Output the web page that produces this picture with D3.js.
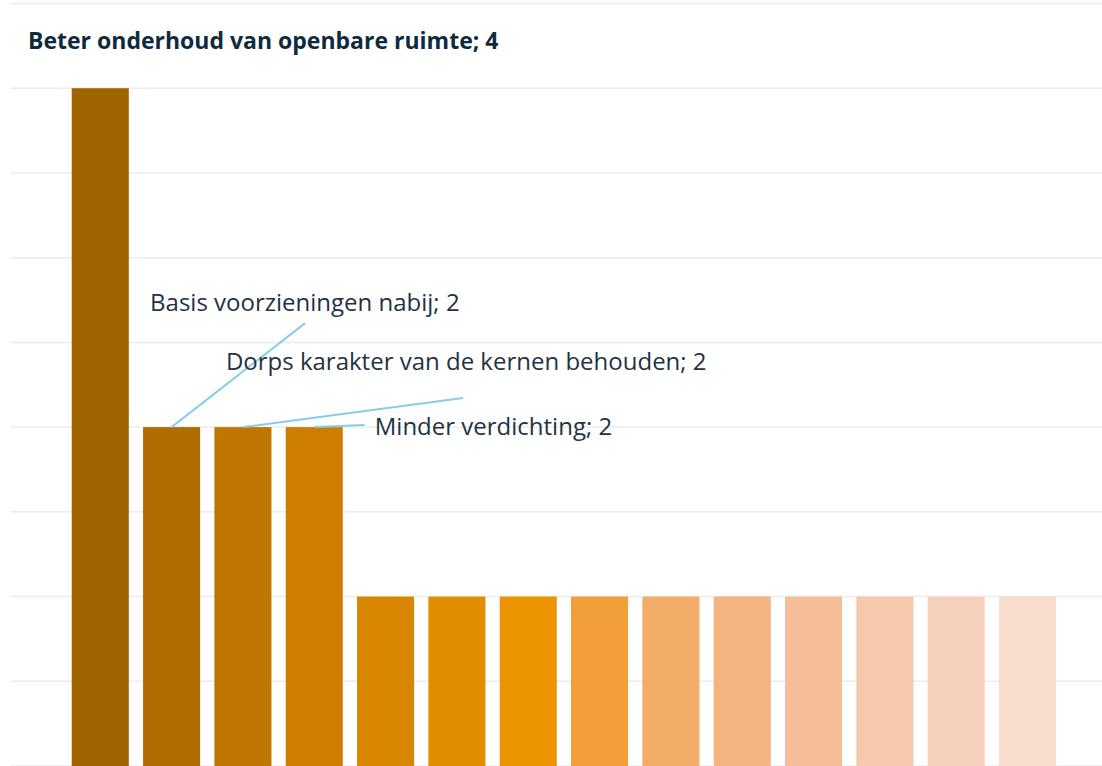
<!DOCTYPE html>
<html>
<head>
<meta charset="utf-8">
<script src="https://cdn.jsdelivr.net/npm/d3@7"></script>
<style>
  body { margin: 0; background: #fff; }
  svg { display: block; }
  text { font-family: "Open Sans", "Noto Sans", sans-serif; }
</style>
</head>
<body>
<div id="chart"></div>
<script>
// data
var categories = [
    "Beter onderhoud van openbare ruimte",
    "Basis voorzieningen nabij",
    "Dorps karakter van de kernen behouden",
    "Minder verdichting",
    "Categorie 5", "Categorie 6", "Categorie 7", "Categorie 8", "Categorie 9",
    "Categorie 10", "Categorie 11", "Categorie 12", "Categorie 13", "Categorie 14"
];
var values = [4, 2, 2, 2, 1, 1, 1, 1, 1, 1, 1, 1, 1, 1];
var barColors = ['#a06400', '#b06c00', '#c07600', '#cc7e00', '#d88500', '#e28c00', '#ec9300',
    '#f29e3a', '#f3ab68', '#f3b482', '#f5be98', '#f6c9ac', '#f6d2bc', '#f8ddcc'];
var gridTicks = [0, 0.5, 1, 1.5, 2, 2.5, 3, 3.5, 4, 4.5];

var width = 1102,
    height = 766;

var svg = d3.select('#chart')
    .append('svg')
    .attr('width', width)
    .attr('height', height);

var x = d3.scaleBand()
    .domain(categories)
    .range([64.6, 1063.2])
    .paddingInner(0.2)
    .paddingOuter(0.1);

var y = d3.scaleLinear()
    .domain([0, 4.5])
    .range([766, 3.5]);

// gridlines
svg.append('g')
    .selectAll('line')
    .data(gridTicks)
    .enter().append('line')
    .attr('x1', 10)
    .attr('x2', width)
    .attr('y1', function (d) { return y(d); })
    .attr('y2', function (d) { return y(d); })
    .attr('stroke', '#ececec')
    .attr('stroke-width', 1.5);

// bars
svg.append('g')
    .selectAll('rect')
    .data(values)
    .enter().append('rect')
    .attr('x', function (d, i) { return x(categories[i]); })
    .attr('y', function (d) { return y(d); })
    .attr('width', x.bandwidth())
    .attr('height', function (d) { return y(0) - y(d); })
    .attr('fill', function (d, i) { return barColors[i]; });

// title = label of the first bar
svg.append('text')
    .attr('x', 28)
    .attr('y', 48.5)
    .attr('fill', '#0e2a3c')
    .style('font-size', '23px')
    .style('font-weight', 'bold')
    .text(categories[0] + '; ' + values[0]);

// data labels with leader lines (offsets from top centre of bar)
var callouts = [
    { i: 1, tx: -21.5, ty: -116.5, lx: 133.5, ly: -104 },
    { i: 2, tx: -17, ty: -57, lx: 220, ly: -29 },
    { i: 3, tx: 60.5, ty: 7.5, lx: 50.5, ly: -2 }
];

var cg = svg.append('g');
callouts.forEach(function (c) {
    var cx = x(categories[c.i]) + x.bandwidth() / 2,
        cy = y(values[c.i]);
    cg.append('line')
        .attr('x1', cx)
        .attr('y1', cy)
        .attr('x2', cx + c.lx)
        .attr('y2', cy + c.ly)
        .attr('stroke', '#86cdea')
        .attr('stroke-width', 2);
    cg.append('text')
        .attr('x', cx + c.tx)
        .attr('y', cy + c.ty)
        .attr('fill', '#1f3345')
        .style('font-size', '24px')
        .text(categories[c.i] + '; ' + values[c.i]);
});
</script>
</body>
</html>
